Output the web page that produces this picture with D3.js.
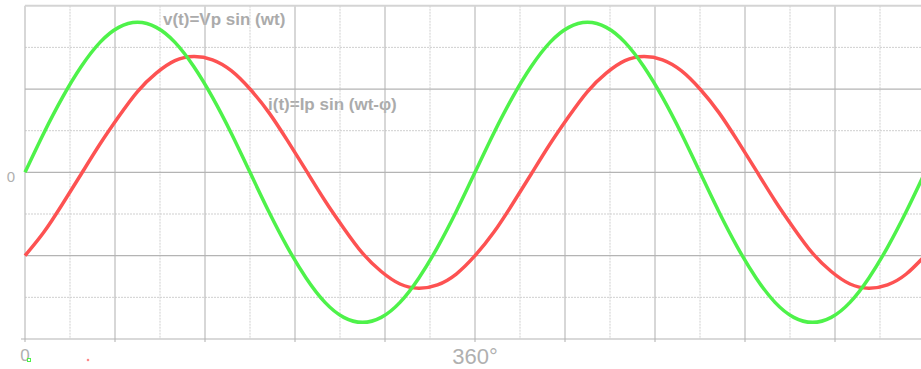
<!DOCTYPE html>
<html>
<head>
<meta charset="utf-8">
<script src="https://cdn.jsdelivr.net/npm/d3@7"></script>
<style>
  html, body { margin: 0; padding: 0; background: #fff; overflow: hidden; }
  text { font-family: Arial, "Liberation Sans", sans-serif; }
</style>
</head>
<body>
<div id="chart"></div>
<script>
// phase angle (degrees) of each sample
const angles = [0, 15, 30, 45, 60, 75, 90, 105, 120, 135, 150, 165, 180, 195, 210, 225, 240, 255, 270, 285, 300, 315, 330, 345,
    360, 375, 390, 405, 420, 435, 450, 465, 480, 495, 510, 525, 540, 555, 570, 585, 600, 615, 630, 645, 660, 675, 690, 705, 720]

// v(t), in grid divisions
const voltage = [0, 0.47, 0.90, 1.27, 1.56, 1.74, 1.80, 1.74, 1.56, 1.27, 0.90, 0.47, 0, -0.47, -0.90, -1.27, -1.56, -1.74, -1.80, -1.74, -1.56, -1.27, -0.90, -0.47,
    0, 0.47, 0.90, 1.27, 1.56, 1.74, 1.80, 1.74, 1.56, 1.27, 0.90, 0.47, 0, -0.47, -0.90, -1.27, -1.56, -1.74, -1.80, -1.74, -1.56, -1.27, -0.90, -0.47, 0]

// i(t), in grid divisions
const current = [-1.00, -0.72, -0.38, -0.02, 0.34, 0.67, 0.97, 1.19, 1.34, 1.39, 1.35, 1.22, 1.00, 0.72, 0.38, 0.02, -0.34, -0.67, -0.97, -1.19, -1.34, -1.39, -1.35, -1.22,
    -1.00, -0.72, -0.38, -0.02, 0.34, 0.67, 0.97, 1.19, 1.34, 1.39, 1.35, 1.22, 1.00, 0.72, 0.38, 0.02, -0.34, -0.67, -0.97, -1.19, -1.34, -1.39, -1.35, -1.22, -1.00]

const xMajorTicks = [0, 72, 144, 216, 288, 360, 432, 504, 576, 648, 720]
const xMinorTicks = [36, 108, 180, 252, 324, 396, 468, 540, 612, 684]
const yMajorTicks = [-2, -1, 0, 1, 2]
const yMinorTicks = [-1.5, -0.5, 0.5, 1.5]
const xLabels = [{ value: 0, text: '0' }, { value: 360, text: '360°' }]
const curveLabels = [
    { text: 'v(t)=Vp sin (wt)', angle: 110.4, level: 1.77 },
    { text: 'i(t)=Ip sin (wt-φ)', angle: 194.4, level: 0.75 }
]

const W = 921, H = 369

const svg = d3.select('#chart')
    .append('svg')
    .attr('width', W)
    .attr('height', H)

const x = d3.scaleLinear().domain([0, 720]).range([25, 925])
const y = d3.scaleLinear().domain([-2, 2]).range([339, 5.7])

// labels sit under the grid
svg.append('g')
    .selectAll('text')
    .data(curveLabels)
    .join('text')
    .attr('x', d => x(d.angle))
    .attr('y', d => y(d.level))
    .attr('fill', '#ababab')
    .attr('font-size', 17)
    .attr('font-weight', 'bold')
    .text(d => d.text)

// grid
const grid = svg.append('g')
grid.selectAll('.vminor')
    .data(xMinorTicks)
    .join('line')
    .attr('x1', d => x(d)).attr('x2', d => x(d))
    .attr('y1', y(2)).attr('y2', y(-2))
    .attr('stroke', '#cfcfcf')
    .attr('stroke-dasharray', '2,1')
grid.selectAll('.hminor')
    .data(yMinorTicks)
    .join('line')
    .attr('x1', x(0)).attr('x2', W)
    .attr('y1', d => y(d)).attr('y2', d => y(d))
    .attr('stroke', '#cfcfcf')
    .attr('stroke-dasharray', '2,1')
grid.selectAll('.vmajor')
    .data(xMajorTicks)
    .join('line')
    .attr('x1', d => x(d)).attr('x2', d => x(d))
    .attr('y1', y(2)).attr('y2', y(-2) + 3)
    .attr('stroke', '#bdbdbd')
    .attr('stroke-width', 1.2)
grid.selectAll('.hmajor')
    .data(yMajorTicks)
    .join('line')
    .attr('x1', d => d === -2 ? x(0) - 4 : x(0)).attr('x2', W)
    .attr('y1', d => y(d)).attr('y2', d => y(d))
    .attr('stroke', d => d === 2 ? '#d4d4d4' : '#b4b4b4')
    .attr('stroke-width', d => d === 2 ? 2 : 1.2)

// axis labels
svg.append('text')
    .attr('x', x(0) - 10)
    .attr('y', y(0) + 10)
    .attr('text-anchor', 'end')
    .attr('fill', '#b0b0b0')
    .attr('font-size', 15)
    .text('0')
svg.selectAll('.xlabel')
    .data(xLabels)
    .join('text')
    .attr('x', d => x(d.value))
    .attr('y', d => d.value === 0 ? 361 : 364)
    .attr('text-anchor', 'middle')
    .attr('fill', '#b0b0b0')
    .attr('font-size', d => d.value === 0 ? 17 : 22)
    .text(d => d.text)

// curves
const line = d3.line()
    .x(d => x(d[0]))
    .y(d => y(d[1]))
    .curve(d3.curveNatural)

svg.append('path')
    .datum(angles.map((a, i) => [a, current[i]]))
    .attr('fill', 'none')
    .attr('stroke', '#fd5252')
    .attr('stroke-width', 3.5)
    .attr('d', line)

svg.append('path')
    .datum(angles.map((a, i) => [a, voltage[i]]))
    .attr('fill', 'none')
    .attr('stroke', '#4ef24a')
    .attr('stroke-width', 3.5)
    .attr('d', line)

// tiny legend marks under the axis
svg.append('rect')
    .attr('x', 27.5).attr('y', 358.5)
    .attr('width', 3).attr('height', 3)
    .attr('fill', '#fff')
    .attr('stroke', '#4ef24a')
svg.append('circle')
    .attr('cx', 88).attr('cy', 360)
    .attr('r', 1.3)
    .attr('fill', '#fd8a8a')
</script>
</body>
</html>
